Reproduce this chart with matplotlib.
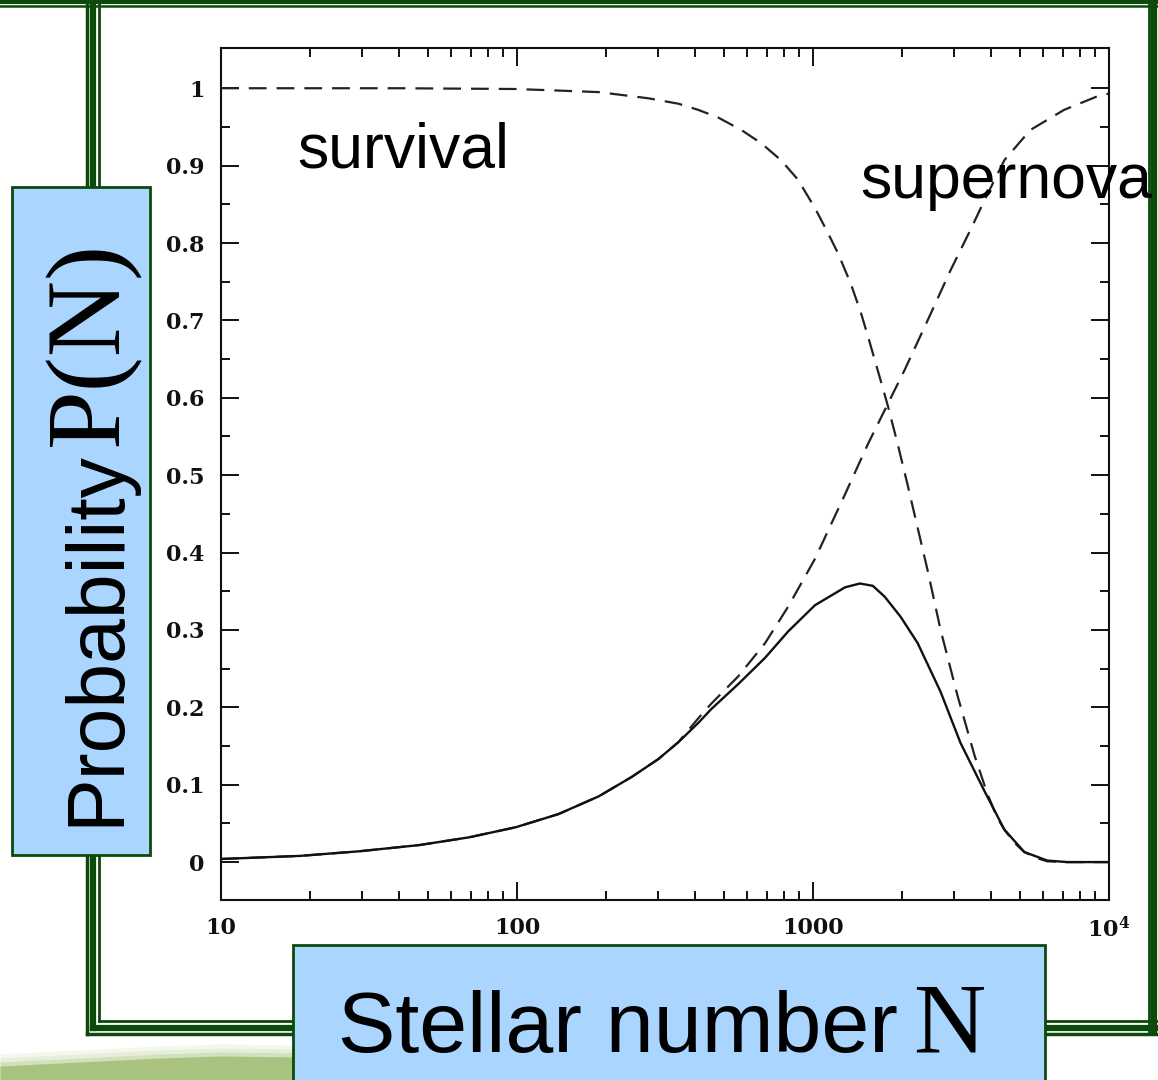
import matplotlib
matplotlib.use('Agg')
import matplotlib.pyplot as plt
import matplotlib.patches as mpatches
import numpy as np
from matplotlib.ticker import FixedLocator, FixedFormatter, NullFormatter

# probability curves vs. stellar number N
survival_n = [10, 40, 99, 138, 189, 278, 351, 410, 479, 573, 668, 780, 889, 1016, 1123,
              1214, 1343, 1451, 1532, 1656, 1789, 1933, 2089, 2257, 2439, 2698, 3078,
              3512, 3884, 4197, 4431, 4788, 5174, 5722, 6183, 7220, 10000]
survival_p = [1.0, 1.0, 0.999, 0.997, 0.995, 0.987, 0.98, 0.972, 0.962, 0.946, 0.929,
              0.907, 0.882, 0.845, 0.813, 0.787, 0.747, 0.71, 0.68, 0.635, 0.59, 0.54,
              0.487, 0.432, 0.377, 0.30, 0.215, 0.138, 0.088, 0.057, 0.042, 0.025,
              0.013, 0.005, 0.001, 0.0, 0.0]

supernova_n = [10, 18.5, 29.4, 46.8, 68.9, 99, 138, 189, 244, 300, 351, 410, 454, 559,
               689, 824, 1016, 1282, 1532, 1789, 2040, 2439, 2917, 3404, 3793, 4431,
               5420, 7047, 9330, 10000]
supernova_p = [0.004, 0.008, 0.014, 0.022, 0.032, 0.045, 0.062, 0.085, 0.11, 0.133,
               0.155, 0.186, 0.205, 0.24, 0.283, 0.33, 0.392, 0.475, 0.54, 0.592, 0.636,
               0.70, 0.765, 0.817, 0.855, 0.907, 0.946, 0.972, 0.991, 0.993]

total_n = [10, 18.5, 29.4, 46.8, 68.9, 99, 138, 189, 244, 300, 351, 410, 454, 559, 689,
           824, 1016, 1282, 1440, 1592, 1746, 1977, 2257, 2698, 3150, 3793, 4431, 5174,
           6183, 7220, 10000]
total_p = [0.004, 0.008, 0.014, 0.022, 0.032, 0.045, 0.062, 0.085, 0.11, 0.133, 0.155,
           0.18, 0.198, 0.23, 0.264, 0.298, 0.332, 0.355, 0.36, 0.357, 0.343, 0.317,
           0.283, 0.22, 0.154, 0.092, 0.042, 0.013, 0.002, 0.0, 0.0]

y_ticks = [0, 0.1, 0.2, 0.3, 0.4, 0.5, 0.6, 0.7, 0.8, 0.9, 1.0]
y_tick_labels = ['0', '0.1', '0.2', '0.3', '0.4', '0.5', '0.6', '0.7', '0.8', '0.9', '1']
x_ticks = [10, 100, 1000, 10000]
x_tick_labels = ['10', '100', '1000', r'10$^\mathbf{4}$']

W, H = 1158, 1080
green = '#0b4a0b'
blue = '#a9d5ff'

plt.rcParams['mathtext.fontset'] = 'dejavuserif'
fig = plt.figure(figsize=(W / 100, H / 100), dpi=100)
fig.patch.set_facecolor('white')

# main chart
ax = fig.add_axes([221 / W, (H - 900) / H, (1109 - 221) / W, (900 - 48) / H])
ax.set_xscale('log')
ax.plot(survival_n, survival_p, color='#222222', lw=1.6, dashes=(8, 4.5))
ax.plot(supernova_n, supernova_p, color='#222222', lw=1.6, dashes=(8, 4.5))
ax.plot(total_n, total_p, color='#111111', lw=1.7)
ax.set_xlim(10, 10000)
ax.set_ylim(-0.049, 1.052)

ax.xaxis.set_major_locator(FixedLocator(x_ticks))
ax.xaxis.set_major_formatter(FixedFormatter(x_tick_labels))
minor_x = [m * d for d in (10, 100, 1000) for m in range(2, 10)]
ax.xaxis.set_minor_locator(FixedLocator(minor_x))
ax.xaxis.set_minor_formatter(NullFormatter())
ax.yaxis.set_major_locator(FixedLocator(y_ticks))
ax.yaxis.set_major_formatter(FixedFormatter(y_tick_labels))
ax.yaxis.set_minor_locator(FixedLocator(np.arange(0.05, 1.0, 0.1)))

ax.tick_params(which='both', direction='in', top=True, right=True, width=1.4, colors='#111111')
ax.tick_params(which='major', length=13, pad=12, labelsize=16)
ax.tick_params(which='minor', length=6.5)
for lab in ax.get_xticklabels() + ax.get_yticklabels():
    lab.set_family('DejaVu Serif')
    lab.set_fontweight('bold')
    lab.set_color('#111111')
for s in ax.spines.values():
    s.set_linewidth(1.5)
    s.set_color('#111111')

# slide decoration layer in pixel coordinates
ov = fig.add_axes([0, 0, 1, 1])
ov.set_xlim(0, W)
ov.set_ylim(H, 0)
ov.axis('off')
ov.patch.set_alpha(0)

# green hill at bottom left
hx = [0, 80, 160, 220, 300]
for k, c in enumerate(['#f3f7ec', '#e6eed9', '#d2e0bc']):
    off = 12 - 4 * k
    ov.fill_between(hx, [1066 - off, 1062 - off, 1058 - off, 1056 - off, 1057 - off], H,
                    color=c, zorder=1, lw=0)
ov.fill_between(hx, [1066, 1062, 1058, 1056, 1057], H, color='#a8c37f', zorder=1.5, lw=0)

# double-line frame: outer thin, thick, inner thin
frame = [(86.5, 1034, 2.5), (92.5, 1027.5, 4.5), (99, 1021, 2)]
for pos, end, lw in frame:
    ov.plot([pos, pos], [0, end], color=green, lw=lw, solid_capstyle='projecting', zorder=2)
    ov.plot([pos, W], [end, end], color=green, lw=lw, solid_capstyle='projecting', zorder=2)
for pos, lw in [(1149, 2), (1153.5, 4.5)]:
    ov.plot([pos, pos], [0, 1034], color=green, lw=lw, solid_capstyle='butt', zorder=2)
ov.plot([0, W], [1.5, 1.5], color=green, lw=3, zorder=2)
ov.plot([0, W], [6, 6], color=green, lw=1.8, zorder=2)

# label boxes
ov.add_patch(mpatches.Rectangle((12, 187), 138, 668, facecolor=blue, edgecolor=green, lw=2, zorder=3))
ov.add_patch(mpatches.Rectangle((293, 945), 752, 150, facecolor=blue, edgecolor=green, lw=2, zorder=3))

# axis titles
ov.text(118, 826, 'Probability', family='Liberation Sans', fontsize=58, rotation=90,
        rotation_mode='anchor', ha='left', va='baseline', zorder=4)
ov.text(117, 446, 'P(N)', family='Liberation Serif', fontsize=76, rotation=90,
        rotation_mode='anchor', ha='left', va='baseline', zorder=4)
ov.text(338, 1052, 'Stellar number', family='Liberation Sans', fontsize=62,
        ha='left', va='baseline', zorder=4)
ov.text(913, 1052, 'N', family='Liberation Serif', fontsize=72,
        ha='left', va='baseline', zorder=4)

# curve annotations
ov.text(297, 168, 'survival', family='Liberation Sans', fontsize=45,
        ha='left', va='baseline', zorder=4)
ov.text(860, 198, 'supernova', family='Liberation Sans', fontsize=45,
        ha='left', va='baseline', zorder=4)

fig.savefig('out.png', dpi=100)
